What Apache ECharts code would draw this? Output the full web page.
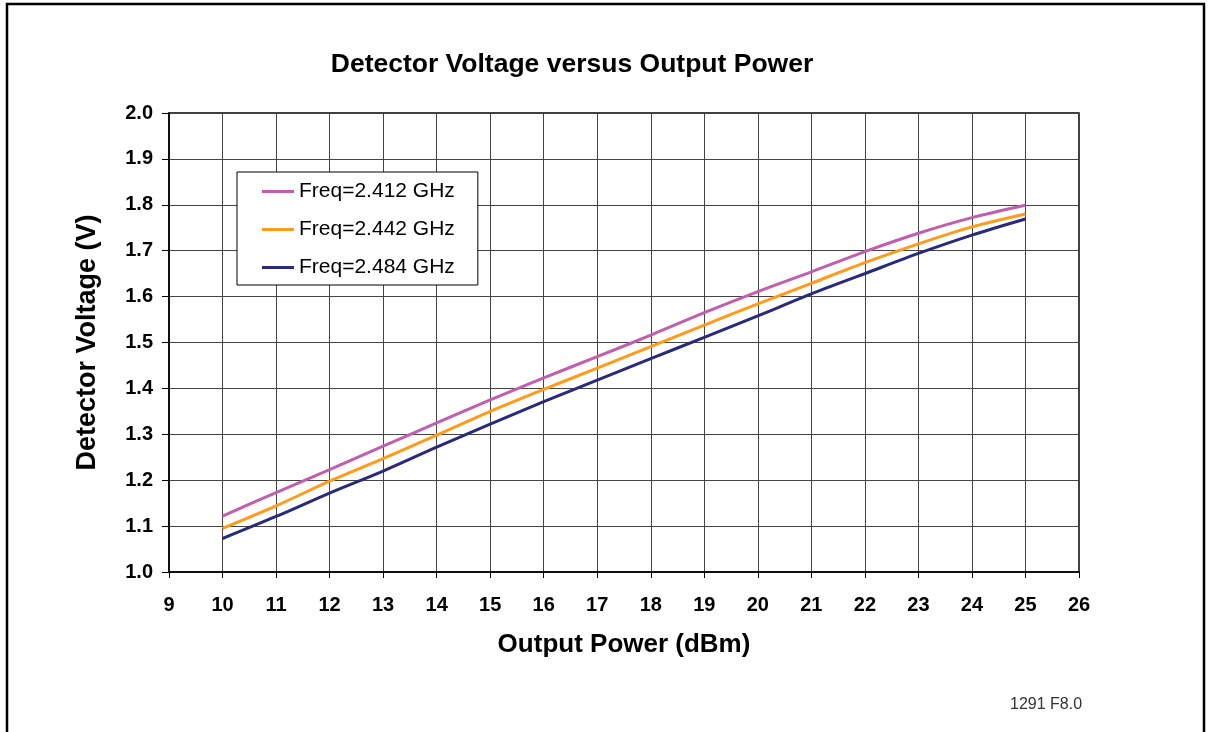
<!DOCTYPE html>
<html>
<head>
<meta charset="utf-8">
<title>Detector Voltage versus Output Power</title>
<script src="https://cdn.jsdelivr.net/npm/echarts@6/dist/echarts.min.js"></script>
<style>
    html, body { margin: 0; padding: 0; background: #fff; }
    #chartId { width: 1212px; height: 732px; }
</style>
</head>
<body>
<div id="chartId"></div>
<script>
// 输出功率 (dBm)
var powerList = [10, 11, 12, 13, 14, 15, 16, 17, 18, 19, 20, 21, 22, 23, 24, 25];
// 各频率下的检波电压 (V)
var volt2412 = [1.122, 1.173, 1.223, 1.274, 1.325, 1.375, 1.423, 1.469, 1.516, 1.565, 1.611, 1.654, 1.698, 1.738, 1.772, 1.799];
var volt2442 = [1.095, 1.144, 1.198, 1.247, 1.298, 1.350, 1.398, 1.444, 1.491, 1.538, 1.584, 1.629, 1.674, 1.715, 1.752, 1.780];
var volt2484 = [1.073, 1.121, 1.172, 1.220, 1.272, 1.322, 1.371, 1.418, 1.465, 1.511, 1.558, 1.606, 1.650, 1.694, 1.734, 1.769];
var seriesNames = ['Freq=2.412 GHz', 'Freq=2.442 GHz', 'Freq=2.484 GHz'];
var seriesColors = ['#c25eae', '#ff9a1a', '#2a2a7c'];

/**
 * 把x与y拼成点对
 */
function toPairs(xs, ys) {
    var out = [];
    for (var i = 0; i < xs.length; i++) {
        out.push([xs[i], ys[i]]);
    }
    return out;
}

var myChart = echarts.init(document.getElementById('chartId'));
var fontName = 'Liberation Sans, Arial, sans-serif';
var gridColor = '#444';

var seriesList = [volt2412, volt2442, volt2484].map(function(ys, i) {
    return {
        name: seriesNames[i],
        type: 'line',
        smooth: 0.3,
        symbol: 'none',
        data: toPairs(powerList, ys),
        lineStyle: { color: seriesColors[i], width: 3 },
        itemStyle: { color: seriesColors[i] }
    };
});

myChart.setOption({
    animation: false,
    backgroundColor: '#fff',
    textStyle: { fontFamily: fontName },
    title: {
        text: 'Detector Voltage versus Output Power',
        left: 567,
        top: 46,
        textAlign: 'center',
        textStyle: { fontSize: 26.5, fontWeight: 'bold', color: '#000', fontFamily: fontName }
    },
    legend: {
        orient: 'vertical',
        left: 237,
        top: 172,
        padding: [9, 23, 7, 25],
        itemGap: 17,
        itemWidth: 32,
        itemHeight: 3,
        icon: 'rect',
        backgroundColor: '#fff',
        borderColor: '#000',
        borderWidth: 1,
        borderRadius: 0,
        data: seriesNames,
        textStyle: { fontSize: 21, color: '#000', fontFamily: fontName }
    },
    grid: {
        left: 169,
        right: 133,
        top: 113,
        bottom: 160,
        show: true,
        borderColor: '#000',
        borderWidth: 1.5,
        containLabel: false
    },
    xAxis: {
        type: 'value',
        min: 9,
        max: 26,
        interval: 1,
        name: 'Output Power (dBm)',
        nameLocation: 'middle',
        nameGap: 60,
        nameTextStyle: { fontSize: 26, fontWeight: 'bold', color: '#000' },
        axisLine: { lineStyle: { color: '#000', width: 1.5 } },
        axisTick: { show: true, length: 6, lineStyle: { color: '#000' } },
        axisLabel: { fontSize: 20, fontWeight: 'bold', color: '#000', margin: 23 },
        splitLine: { show: true, lineStyle: { color: gridColor, width: 1 } }
    },
    yAxis: {
        type: 'value',
        min: 1.0,
        max: 2.0,
        interval: 0.1,
        name: 'Detector Voltage (V)',
        nameLocation: 'middle',
        nameGap: 68,
        nameTextStyle: { fontSize: 27, fontWeight: 'bold', color: '#000' },
        axisLine: { show: true, lineStyle: { color: '#000', width: 1.5 } },
        axisTick: { show: true, length: 7, lineStyle: { color: '#000' } },
        axisLabel: {
            fontSize: 20,
            fontWeight: 'bold',
            color: '#000',
            margin: 16,
            formatter: function(v) { return v.toFixed(1); }
        },
        splitLine: { show: true, lineStyle: { color: gridColor, width: 1 } }
    },
    graphic: [
        {
            type: 'rect',
            shape: { x: 7, y: 4, width: 1197, height: 760 },
            style: { fill: null, stroke: '#000', lineWidth: 2.5 },
            silent: true
        },
        {
            type: 'text',
            left: 1010,
            top: 697,
            style: { text: '1291 F8.0', fontSize: 16, fill: '#333', fontFamily: fontName }
        }
    ],
    series: seriesList
});
</script>
</body>
</html>
